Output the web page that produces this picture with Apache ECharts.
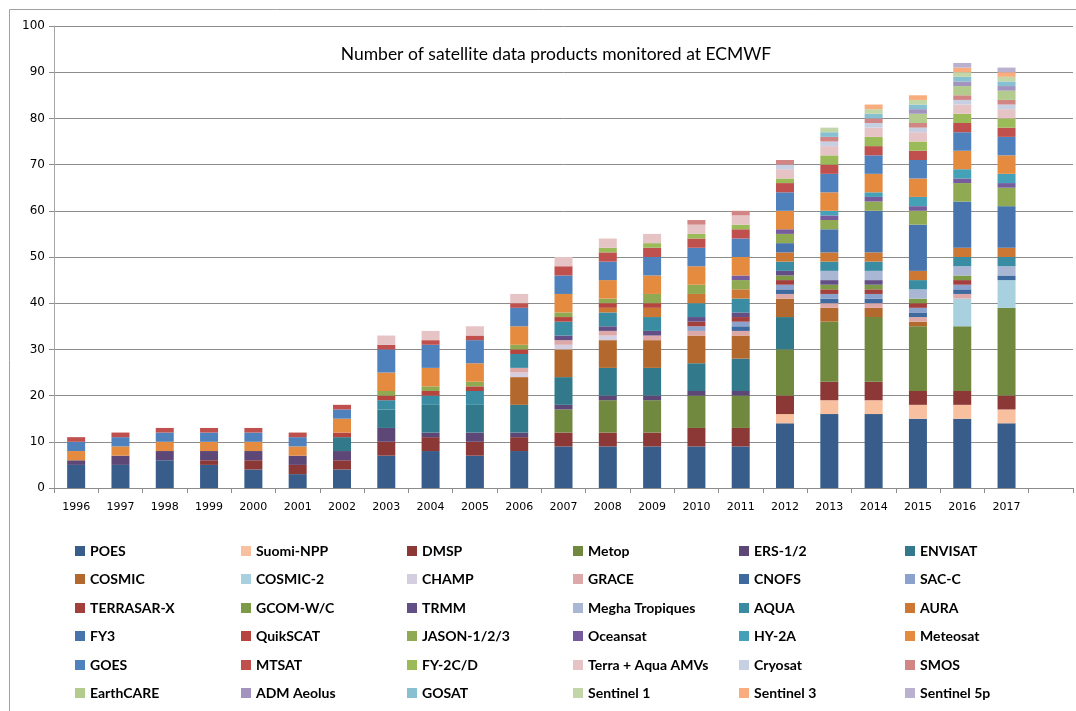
<!DOCTYPE html>
<html>
<head>
<meta charset="utf-8">
<title>Satellite data products monitored at ECMWF</title>
<script src="https://cdn.jsdelivr.net/npm/echarts@6/dist/echarts.min.js"></script>
<style>
  html, body { margin: 0; padding: 0; background: #ffffff; }
  #chart { width: 1076px; height: 711px; }
</style>
</head>
<body>
<div id="chart"></div>
<script>
// Years on the category axis (one empty slot follows 2017)
const years = ['1996','1997','1998','1999','2000','2001','2002','2003','2004','2005','2006',
               '2007','2008','2009','2010','2011','2012','2013','2014','2015','2016','2017'];
const yTicks = [0, 10, 20, 30, 40, 50, 60, 70, 80, 90, 100];

// Number of data products per satellite family, 1996..2017
const POES       = [5,5,6,5,4,3,4,7,8,7,8,9,9,9,9,9,14,16,16,15,15,14];
const SUOMI_NPP  = [0,0,0,0,0,0,0,0,0,0,0,0,0,0,0,0,2,3,3,3,3,3];
const DMSP       = [0,0,0,1,2,2,2,3,3,3,3,3,3,3,4,4,4,4,4,3,3,3];
const METOP      = [0,0,0,0,0,0,0,0,0,0,0,5,7,7,7,7,10,13,14,14,14,19];
const ERS        = [1,2,2,2,2,2,2,3,1,2,1,1,1,1,1,1,0,0,0,0,0,0];
const ENVISAT    = [0,0,0,0,0,0,3,4,6,6,6,6,6,6,6,7,7,0,0,0,0,0];
const COSMIC     = [0,0,0,0,0,0,0,0,0,0,6,6,6,6,6,5,4,3,2,1,0,0];
const COSMIC2    = [0,0,0,0,0,0,0,0,0,0,0,0,0,0,0,0,0,0,0,0,6,6];
const CHAMP      = [0,0,0,0,0,0,0,0,0,0,1,1,1,0,0,0,0,0,0,0,0,0];
const GRACE      = [0,0,0,0,0,0,0,0,0,0,1,1,1,1,1,1,1,1,1,1,1,0];
const CNOFS      = [0,0,0,0,0,0,0,0,0,0,0,0,0,0,0,1,1,1,1,1,1,1];
const SAC_C      = [0,0,0,0,0,0,0,0,0,0,0,0,0,0,1,1,1,1,1,1,1,0];
const TERRASAR_X = [0,0,0,0,0,0,0,0,0,0,0,0,0,0,1,1,1,1,1,1,1,0];
const GCOM       = [0,0,0,0,0,0,0,0,0,0,0,0,0,0,0,0,1,1,1,1,1,0];
const TRMM       = [0,0,0,0,0,0,0,0,0,0,0,1,1,1,1,1,1,1,1,0,0,0];
const MEGHA      = [0,0,0,0,0,0,0,0,0,0,0,0,0,0,0,0,0,2,2,2,2,2];
const AQUA       = [0,0,0,0,0,0,0,2,2,3,3,3,3,3,3,3,2,2,2,2,2,2];
const AURA       = [0,0,0,0,0,0,0,0,0,0,0,0,1,2,2,2,2,2,2,2,2,2];
const FY3        = [0,0,0,0,0,0,0,0,0,0,0,0,0,0,0,0,2,5,9,10,10,9];
const QUIKSCAT   = [0,0,0,0,0,0,1,1,1,1,1,1,1,1,0,0,0,0,0,0,0,0];
const JASON      = [0,0,0,0,0,0,0,1,1,1,1,1,1,2,2,2,2,2,2,3,4,4];
const OCEANSAT   = [0,0,0,0,0,0,0,0,0,0,0,0,0,0,0,1,1,1,1,1,1,1];
const HY2A       = [0,0,0,0,0,0,0,0,0,0,0,0,0,0,0,0,0,1,1,2,2,2];
const METEOSAT   = [2,2,2,2,2,2,3,4,4,4,4,4,4,4,4,4,4,4,4,4,4,4];
const GOES       = [2,2,2,2,2,2,2,5,5,5,4,4,4,4,4,4,4,4,4,4,4,4];
const MTSAT      = [1,1,1,1,1,1,1,1,1,1,1,2,2,2,2,2,2,2,2,2,2,2];
const FY2        = [0,0,0,0,0,0,0,0,0,0,0,0,1,1,1,1,1,2,2,2,2,2];
const AMVS       = [0,0,0,0,0,0,0,2,2,2,2,2,2,2,2,2,2,2,2,2,2,2];
const CRYOSAT    = [0,0,0,0,0,0,0,0,0,0,0,0,0,0,0,0,1,1,1,1,1,1];
const SMOS       = [0,0,0,0,0,0,0,0,0,0,0,0,0,0,1,1,1,1,1,1,1,1];
const EARTHCARE  = [0,0,0,0,0,0,0,0,0,0,0,0,0,0,0,0,0,0,0,2,2,2];
const ADM_AEOLUS = [0,0,0,0,0,0,0,0,0,0,0,0,0,0,0,0,0,0,0,1,1,1];
const GOSAT      = [0,0,0,0,0,0,0,0,0,0,0,0,0,0,0,0,0,1,1,1,1,1];
const SENTINEL1  = [0,0,0,0,0,0,0,0,0,0,0,0,0,0,0,0,0,1,1,1,1,1];
const SENTINEL3  = [0,0,0,0,0,0,0,0,0,0,0,0,0,0,0,0,0,0,1,1,1,1];
const SENTINEL5P = [0,0,0,0,0,0,0,0,0,0,0,0,0,0,0,0,0,0,0,0,1,1];

// Series in stacking order (bottom to top), with fill colours
const layers = [
  ['POES', POES, '#385D8A'],
  ['Suomi-NPP', SUOMI_NPP, '#F9C09F'],
  ['DMSP', DMSP, '#8C3836'],
  ['Metop', METOP, '#71893F'],
  ['ERS-1/2', ERS, '#5C4776'],
  ['ENVISAT', ENVISAT, '#327A8B'],
  ['COSMIC', COSMIC, '#B3692D'],
  ['COSMIC-2', COSMIC2, '#A8D0DE'],
  ['CHAMP', CHAMP, '#D4CEE0'],
  ['GRACE', GRACE, '#DDA8A8'],
  ['CNOFS', CNOFS, '#3E6AA0'],
  ['SAC-C', SAC_C, '#8AA2CC'],
  ['TERRASAR-X', TERRASAR_X, '#A33F3C'],
  ['GCOM-W/C', GCOM, '#7D9B47'],
  ['TRMM', TRMM, '#634F85'],
  ['Megha Tropiques', MEGHA, '#A9B7D5'],
  ['AQUA', AQUA, '#3A8CA2'],
  ['AURA', AURA, '#CC7733'],
  ['FY3', FY3, '#4874AD'],
  ['QuikSCAT', QUIKSCAT, '#B7453F'],
  ['JASON-1/2/3', JASON, '#8FAA52'],
  ['Oceansat', OCEANSAT, '#775C9D'],
  ['HY-2A', HY2A, '#45A1B8'],
  ['Meteosat', METEOSAT, '#E58B40'],
  ['GOES', GOES, '#4F81BD'],
  ['MTSAT', MTSAT, '#C0504D'],
  ['FY-2C/D', FY2, '#9BBB59'],
  ['Terra + Aqua AMVs', AMVS, '#E6C3C5'],
  ['Cryosat', CRYOSAT, '#C7D0E3'],
  ['SMOS', SMOS, '#D18584'],
  ['EarthCARE', EARTHCARE, '#B3CC8E'],
  ['ADM Aeolus', ADM_AEOLUS, '#A294BE'],
  ['GOSAT', GOSAT, '#86C0D1'],
  ['Sentinel 1', SENTINEL1, '#C2D6A8'],
  ['Sentinel 3', SENTINEL3, '#F9AC7E'],
  ['Sentinel 5p', SENTINEL5P, '#BAB0D0']
];

const chart = echarts.init(document.getElementById('chart'), null, { renderer: 'canvas' });

const series = layers.map(([name, values, color]) => ({
  name: name,
  type: 'bar',
  stack: 'total',
  barWidth: 18,
  data: values,
  itemStyle: { color: color },
  emphasis: { disabled: true },
  animation: false
}));

// Legend laid out as a 6 x 6 grid: one horizontal legend per row,
// every entry given the same width so the columns line up
const rowTop = [544, 572, 601, 629, 658, 686];
const legends = rowTop.map((top, r) => ({
  orient: 'horizontal',
  left: 75,
  top: top,
  width: 1000,
  padding: 0,
  itemWidth: 10,
  itemHeight: 10,
  itemGap: 1,
  selectedMode: false,
  icon: 'rect',
  data: layers.slice(r * 6, r * 6 + 6).map(l => l[0]),
  textStyle: {
    fontFamily: 'Lato',
    fontWeight: 'bold',
    fontSize: 14,
    lineHeight: 10,
    width: 150,
    overflow: 'truncate',
    color: '#000000'
  }
}));

chart.setOption({
  backgroundColor: '#ffffff',
  animation: false,
  title: {
    text: 'Number of satellite data products monitored at ECMWF',
    left: 551,
    top: 40,
    textAlign: 'center',
    textStyle: { fontFamily: 'Lato', fontWeight: 'normal', fontSize: 17.5, color: '#000000' }
  },
  graphic: [{
    type: 'rect',
    shape: { x: 9.5, y: 9.5, width: 1200, height: 900 },
    style: { fill: 'none', stroke: '#a0a0a0', lineWidth: 1 },
    silent: true
  }],
  legend: legends,
  grid: { left: 54, right: 3, top: 26, bottom: 223, containLabel: false },
  xAxis: {
    type: 'category',
    data: years.concat(['']),
    boundaryGap: true,
    axisLine: { lineStyle: { color: '#8c8c8c', width: 1 } },
    axisTick: { show: true, length: 5, interval: 0, lineStyle: { color: '#8c8c8c' } },
    axisLabel: {
      interval: 0,
      margin: 14,
      fontFamily: 'DejaVu Sans',
      fontSize: 11,
      color: '#000000'
    },
    splitLine: { show: false }
  },
  yAxis: {
    type: 'value',
    min: yTicks[0],
    max: yTicks[yTicks.length - 1],
    interval: 10,
    axisLine: { show: true, lineStyle: { color: '#a6a6a6', width: 1 } },
    axisTick: { show: true, length: 5, lineStyle: { color: '#8c8c8c' } },
    axisLabel: {
      margin: 9,
      fontFamily: 'DejaVu Sans',
      fontSize: 12,
      color: '#000000'
    },
    splitLine: { show: true, lineStyle: { color: '#8c8c8c', width: 1 } }
  },
  series: series
});
</script>
</body>
</html>
